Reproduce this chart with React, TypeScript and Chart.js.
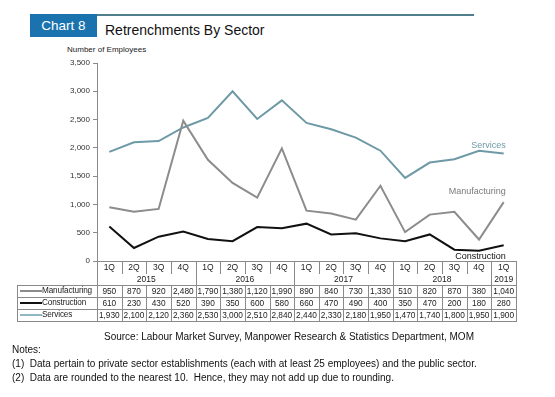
import React, { useEffect, useRef } from "react";
import { Chart, registerables } from "chart.js";

Chart.register(...registerables);

const quarters = ["1Q", "2Q", "3Q", "4Q", "1Q", "2Q", "3Q", "4Q", "1Q", "2Q", "3Q", "4Q", "1Q", "2Q", "3Q", "4Q", "1Q"];
const yearLabels = ["2015", "2016", "2017", "2018", "2019"];
const yearSpans = [4, 4, 4, 4, 1];
const manufacturing = [950, 870, 920, 2480, 1790, 1380, 1120, 1990, 890, 840, 730, 1330, 510, 820, 870, 380, 1040];
const construction = [610, 230, 430, 520, 390, 350, 600, 580, 660, 470, 490, 400, 350, 470, 200, 180, 280];
const services = [1930, 2100, 2120, 2360, 2530, 3000, 2510, 2840, 2440, 2330, 2180, 1950, 1470, 1740, 1800, 1950, 1900];
const seriesNames = ["Manufacturing", "Construction", "Services"];

const FONT = "'Liberation Sans', Arial, sans-serif";
const C_MAN = "#8c8c8c";
const C_CON = "#111111";
const C_SER = "#6e9aa6";
const GRID = "#8a8a8a";

// layout
const CANVAS_TOP = 40;
const CANVAS_H = 230;
const AREA_L = 97;
const AREA_R = 516;
const AREA_T = 63;
const AREA_B = 261;

const fmt = (v: number) => v.toLocaleString("en-US");

export default function App() {
  const ref = useRef<HTMLCanvasElement | null>(null);

  useEffect(() => {
    const canvas = ref.current;
    if (!canvas) return;
    const seriesLabelPlugin = {
      id: "seriesLabels",
      afterDatasetsDraw(chart: any) {
        const ctx = chart.ctx;
        const specs = [
          { ds: 2, text: "Services", color: C_SER, dy: -8 },
          { ds: 0, text: "Manufacturing", color: "#7a7a7a", dy: -11 },
          { ds: 1, text: "Construction", color: "#111", dy: 11 },
        ];
        ctx.save();
        ctx.font = `9px ${FONT}`;
        ctx.textAlign = "right";
        ctx.textBaseline = "middle";
        specs.forEach((s) => {
          const meta = chart.getDatasetMeta(s.ds);
          const pt = meta.data[meta.data.length - 1];
          ctx.fillStyle = s.color;
          ctx.fillText(s.text, pt.x + 2, pt.y + s.dy);
        });
        ctx.restore();
      },
    };
    const chart = new Chart(canvas, {
      type: "line",
      data: {
        labels: quarters.map((q, i) => q + "-" + i),
        datasets: [
          { label: seriesNames[0], data: manufacturing, borderColor: C_MAN, borderWidth: 2, pointRadius: 0, tension: 0 },
          { label: seriesNames[1], data: construction, borderColor: C_CON, borderWidth: 2, pointRadius: 0, tension: 0 },
          { label: seriesNames[2], data: services, borderColor: C_SER, borderWidth: 2, pointRadius: 0, tension: 0 },
        ],
      },
      options: {
        animation: false,
        responsive: false,
        devicePixelRatio: 1,
        layout: {
          padding: {
            left: 0,
            right: 555 - AREA_R,
            top: AREA_T - CANVAS_TOP,
            bottom: CANVAS_TOP + CANVAS_H - AREA_B,
          },
        },
        plugins: { legend: { display: false }, tooltip: { enabled: false }, title: { display: false } },
        scales: {
          x: {
            offset: true,
            grid: { display: false },
            ticks: { display: false },
            border: { display: true, color: GRID, width: 1 },
            afterFit: (s: any) => {
              s.height = 0;
            },
          },
          y: {
            min: 0,
            max: 3500,
            ticks: {
              stepSize: 500,
              padding: 3,
              color: "#333",
              font: { family: FONT, size: 8 },
              callback: (v: any) => fmt(Number(v)),
            },
            grid: { display: true, drawOnChartArea: false, drawTicks: true, tickLength: 4, color: GRID },
            border: { display: true, color: GRID, width: 1 },
            afterFit: (s: any) => {
              s.width = AREA_L;
            },
          },
        },
      },
      plugins: [seriesLabelPlugin],
    } as any);
    return () => chart.destroy();
  }, []);

  const n = quarters.length;
  const colW = (AREA_R - AREA_L) / n;
  const rowQ = [AREA_B, 273];
  const rowY = [273, 285];
  const dataRows = [285, 297, 309, 321];
  const labelLeft = 17;

  const abs = (s: React.CSSProperties): React.CSSProperties => ({ position: "absolute", ...s });
  const hLine = (x1: number, x2: number, y: number, key: string) => (
    <div key={key} style={abs({ left: x1, top: y, width: x2 - x1 + 1, height: 1, background: GRID })} />
  );
  const vLine = (x: number, y1: number, y2: number, key: string) => (
    <div key={key} style={abs({ left: Math.round(x), top: y1, width: 1, height: y2 - y1 + 1, background: GRID })} />
  );
  const cellText = (text: string, x: number, w: number, y: number, h: number, key: string, extra: React.CSSProperties = {}) => (
    <div
      key={key}
      style={abs({
        left: x,
        top: y,
        width: w,
        height: h,
        lineHeight: h + "px",
        textAlign: "center",
        fontSize: 8.5,
        color: "#222",
        whiteSpace: "nowrap",
        ...extra,
      })}
    >
      {text}
    </div>
  );

  const tableEls: React.ReactNode[] = [];
  quarters.forEach((q, i) => {
    tableEls.push(cellText(q, AREA_L + i * colW, colW, rowQ[0], rowQ[1] - rowQ[0], "q" + i));
    if (i > 0) tableEls.push(vLine(AREA_L + i * colW, rowQ[0], rowQ[1], "qv" + i));
  });
  let start = 0;
  yearLabels.forEach((y, k) => {
    const span = yearSpans[k];
    tableEls.push(cellText(y, AREA_L + start * colW, span * colW, rowY[0], rowY[1] - rowY[0], "y" + k));
    start += span;
    if (start < n) tableEls.push(vLine(AREA_L + start * colW, rowQ[0], rowY[1], "yv" + k));
  });
  tableEls.push(vLine(AREA_L, AREA_B, dataRows[3], "lv"));
  tableEls.push(vLine(AREA_R, AREA_B, dataRows[3], "rv"));
  const rowsData = [manufacturing, construction, services];
  const legendColors = [C_MAN, C_CON, "#8fb8c2"];
  const legendWidths = [1.5, 2, 1.5];
  dataRows.forEach((y, r) => tableEls.push(hLine(labelLeft, AREA_R, y, "h" + r)));
  tableEls.push(vLine(labelLeft, dataRows[0], dataRows[3], "llv"));
  for (let i = 1; i < n; i++) tableEls.push(vLine(AREA_L + i * colW, dataRows[0], dataRows[3], "dv" + i));
  rowsData.forEach((arr, r) => {
    const y = dataRows[r];
    const h = dataRows[r + 1] - y;
    tableEls.push(
      <div key={"lg" + r} style={abs({ left: 20, top: y + h / 2 - legendWidths[r] / 2, width: 22, height: legendWidths[r], background: legendColors[r] })} />
    );
    tableEls.push(cellText(seriesNames[r], 42, 55, y, h, "ln" + r, { textAlign: "left", fontSize: 8.2, letterSpacing: -0.15 }));
    arr.forEach((v, i) => tableEls.push(cellText(fmt(v), AREA_L + i * colW, colW, y, h, "d" + r + "-" + i, { fontSize: 8.3 })));
  });

  return (
    <div style={{ position: "absolute", left: 0, top: 0, width: 555, height: 397, background: "#fff", fontFamily: FONT, overflow: "hidden" }}>
      <div style={abs({ left: 97, top: 14, width: 377, height: 2, background: "#4f7f8c" })} />
      <div
        style={abs({
          left: 30,
          top: 14,
          width: 67,
          height: 23,
          background: "#1a73ae",
          color: "#fff",
          fontSize: 13.5,
          lineHeight: "23px",
          textAlign: "center",
        })}
      >
        Chart 8
      </div>
      <div style={abs({ left: 105, top: 20, fontSize: 14, color: "#111", lineHeight: "20px", whiteSpace: "nowrap" })}>
        Retrenchments By Sector
      </div>
      <div style={abs({ left: 67, top: 45, fontSize: 8, color: "#222", whiteSpace: "nowrap", lineHeight: "10px" })}>
        Number of Employees
      </div>
      <canvas ref={ref} width={555} height={CANVAS_H} style={abs({ left: 0, top: CANVAS_TOP, width: 555, height: CANVAS_H })} />
      {tableEls}
      <div style={abs({ left: 104, top: 330, fontSize: 10, color: "#111", whiteSpace: "nowrap", lineHeight: "13px" })}>
        Source: Labour Market Survey, Manpower Research &amp; Statistics Department, MOM
      </div>
      <div style={abs({ left: 12, top: 343, fontSize: 10, color: "#111", whiteSpace: "nowrap", lineHeight: "14px" })}>
        <div>Notes:</div>
        <div>(1)&nbsp; Data pertain to private sector establishments (each with at least 25 employees) and the public sector.</div>
        <div>(2)&nbsp; Data are rounded to the nearest 10.&nbsp; Hence, they may not add up due to rounding.</div>
      </div>
    </div>
  );
}
